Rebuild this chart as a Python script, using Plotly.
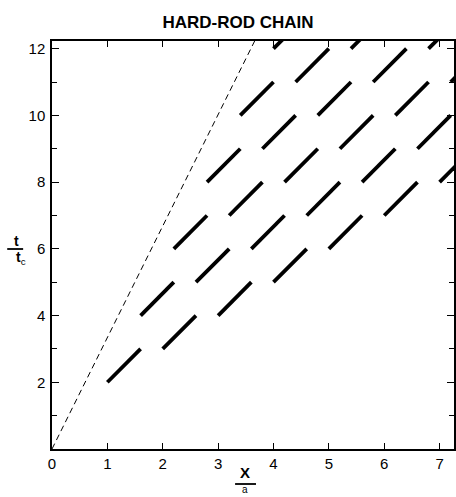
import plotly.graph_objects as go

# Segment data (start/end points of each thick trajectory piece)
seg_x0 = [1.0, 2.0, 3.0, 4.0, 5.0, 6.0, 7.0,
          1.6, 2.6, 3.6, 4.6, 5.6, 6.6,
          2.2, 3.2, 4.2, 5.2, 6.2, 7.2,
          2.8, 3.8, 4.8, 5.8, 6.8,
          3.4, 4.4, 5.4,
          4.0]
seg_t0 = [2, 3, 4, 5, 6, 7, 8,
          4, 5, 6, 7, 8, 9,
          6, 7, 8, 9, 10, 11,
          8, 9, 10, 11, 12,
          10, 11, 12,
          12]
seg_x1 = [1.6, 2.6, 3.6, 4.6, 5.6, 6.6, 7.6,
          2.2, 3.2, 4.2, 5.2, 6.2, 7.2,
          2.8, 3.8, 4.8, 5.8, 6.8, 7.8,
          3.4, 4.4, 5.4, 6.4, 7.4,
          4.0, 5.0, 6.0,
          4.6]
seg_t1 = [3, 4, 5, 6, 7, 8, 9,
          5, 6, 7, 8, 9, 10,
          7, 8, 9, 10, 11, 12,
          9, 10, 11, 12, 13,
          11, 12, 13,
          13]

# Dashed light-cone line
cone_x = [0.0, 3.66]
cone_t = [0.0, 12.23]

x_ticks = [0, 1, 2, 3, 4, 5, 6, 7]
y_ticks = [2, 4, 6, 8, 10, 12]
y_minor = [1, 3, 5, 7, 9, 11]

xs, ts = [], []
for a, b, c, d in zip(seg_x0, seg_t0, seg_x1, seg_t1):
    xs += [a, c, None]
    ts += [b, d, None]

fig = go.Figure()
fig.add_trace(go.Scatter(x=cone_x, y=cone_t, mode="lines",
                         line=dict(color="black", width=1, dash="6px,4px"),
                         hoverinfo="skip", showlegend=False))
fig.add_trace(go.Scatter(x=xs, y=ts, mode="lines",
                         line=dict(color="black", width=3.8),
                         hoverinfo="skip", showlegend=False, connectgaps=False))

W, H = 456, 497
L, R, T, B = 52, 0, 41, 48
pw, ph = W - L - R, H - T - B


def px(x):
    return (x - L) / pw


def py(y):
    return (H - B - y) / ph


font = "Liberation Sans, Arial, sans-serif"
fig.update_layout(
    width=W, height=H,
    margin=dict(l=L, r=R, t=T, b=B),
    paper_bgcolor="white", plot_bgcolor="white",
    title=dict(text="<b>HARD-ROD CHAIN</b>", x=px(239), xref="paper", xanchor="center",
               y=1 - 22.5 / H, yref="container", yanchor="middle",
               font=dict(family=font, size=17, color="black")),
    showlegend=False,
)
fig.update_xaxes(range=[0, 7.26], tickvals=x_ticks, ticks="inside", ticklen=6,
                 tickwidth=1.3, tickcolor="black", showline=True, linewidth=1.5,
                 linecolor="black", mirror="ticks", showgrid=False, zeroline=False,
                 tickfont=dict(family=font, size=15, color="black"))
fig.update_yaxes(range=[0, 12.23], tickvals=y_ticks, ticks="inside", ticklen=7,
                 tickwidth=1.3, tickcolor="black", showline=True, linewidth=1.5,
                 linecolor="black", mirror="ticks", showgrid=False, zeroline=False,
                 ticklabelstandoff=2,
                 minor=dict(tickvals=y_minor, ticks="inside", ticklen=5,
                            tickwidth=1.2, tickcolor="black"),
                 tickfont=dict(family=font, size=15, color="black"))

ann = [
    dict(text="<b>X</b>", x=px(246), y=py(472), font=dict(family=font, size=15, color="black")),
    dict(text="a", x=px(246), y=py(497), yanchor="bottom", font=dict(family=font, size=10, color="black")),
    dict(text="<b>t</b>", x=px(16), y=py(241), font=dict(family=font, size=14, color="black")),
    dict(text="<b>t</b><sub>c</sub>", x=px(21), y=py(258), font=dict(family=font, size=14, color="black")),
]
for a in ann:
    a.update(xref="paper", yref="paper", showarrow=False)
    a.setdefault("xanchor", "center")
    a.setdefault("yanchor", "middle")
fig.update_layout(annotations=ann)
fig.add_shape(type="line", xref="paper", yref="paper", x0=px(236), x1=px(257),
              y0=py(484), y1=py(484), line=dict(color="black", width=1.8))
fig.add_shape(type="line", xref="paper", yref="paper", x0=px(7), x1=px(23),
              y0=py(249), y1=py(249), line=dict(color="black", width=1.8))

fig.write_html("out.html")
